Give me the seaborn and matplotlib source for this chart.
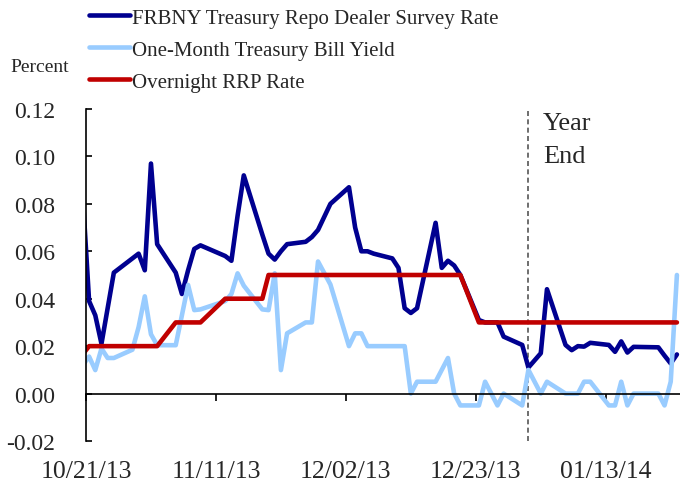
import matplotlib
matplotlib.use("Agg")
import matplotlib.pyplot as plt
import pandas as pd
import seaborn as sns

# ---------------- data ----------------
dates = [
    "2013-10-18",
    "2013-10-21", "2013-10-22", "2013-10-23", "2013-10-24", "2013-10-25",
    "2013-10-28", "2013-10-29", "2013-10-30", "2013-10-31", "2013-11-01",
    "2013-11-04", "2013-11-05", "2013-11-06", "2013-11-07", "2013-11-08",
    "2013-11-12", "2013-11-13", "2013-11-14", "2013-11-15",
    "2013-11-18", "2013-11-19", "2013-11-20", "2013-11-21", "2013-11-22",
    "2013-11-25", "2013-11-26", "2013-11-27", "2013-11-29",
    "2013-12-02", "2013-12-03", "2013-12-04", "2013-12-05", "2013-12-06",
    "2013-12-09", "2013-12-10", "2013-12-11", "2013-12-12", "2013-12-13",
    "2013-12-16", "2013-12-17", "2013-12-18", "2013-12-19", "2013-12-20",
    "2013-12-23", "2013-12-24", "2013-12-26", "2013-12-27",
    "2013-12-30", "2013-12-31",
    "2014-01-02", "2014-01-03",
    "2014-01-06", "2014-01-07", "2014-01-08", "2014-01-09", "2014-01-10",
    "2014-01-13", "2014-01-14", "2014-01-15", "2014-01-16", "2014-01-17",
    "2014-01-21", "2014-01-22", "2014-01-23", "2014-01-24",
]

repo_rate = [
    0.170,
    0.039, 0.033, 0.021, 0.036, 0.051,
    0.057, 0.059, 0.052, 0.097, 0.063,
    0.051, 0.042, 0.052, 0.061, 0.0625,
    0.058, 0.056, 0.075, 0.092,
    0.067, 0.059, 0.0565, 0.060, 0.063,
    0.064, 0.066, 0.069, 0.080,
    0.087, 0.070, 0.060, 0.060, 0.059,
    0.057, 0.053, 0.036, 0.034, 0.036,
    0.072, 0.053, 0.056, 0.054, 0.050,
    0.031, 0.030, 0.030, 0.024,
    0.0205, 0.011,
    0.017, 0.044,
    0.0205, 0.0183, 0.020, 0.0198, 0.0214,
    0.0205, 0.0176, 0.022, 0.0173, 0.0197,
    0.0195, 0.016, 0.0127, 0.0165,
]

tbill_yield = [
    0.005,
    0.0156, 0.0099, 0.019, 0.015, 0.015,
    0.0185, 0.028, 0.041, 0.025, 0.0204,
    0.0204, 0.033, 0.0458, 0.0352, 0.0355,
    0.039, 0.042, 0.0507, 0.0455,
    0.0355, 0.0352, 0.0507, 0.0099, 0.0254,
    0.030, 0.030, 0.0557, 0.046,
    0.020, 0.0254, 0.0254, 0.020, 0.020,
    0.020, 0.020, 0.020, 0.000, 0.005,
    0.005, 0.010, 0.015, 0.000, -0.005,
    -0.005, 0.005, -0.005, 0.000,
    -0.005, 0.010,
    0.000, 0.005,
    0.000, 0.000, 0.000, 0.005, 0.005,
    -0.005, -0.005, 0.005, -0.005, 0.000,
    0.000, -0.005, 0.005, 0.050,
]

rrp_rate = (
    [0.01]
    + [0.02] * 10
    + [0.03] * 5
    + [0.04] * 5
    + [0.05] * 23
    + [0.03] * 22
)

series_names = [
    "FRBNY Treasury Repo Dealer Survey Rate",
    "One-Month Treasury Bill Yield",
    "Overnight RRP Rate",
]
series_colors = ["#000090", "#99CCFF", "#C00000"]

x_tick_labels = ["10/21/13", "11/11/13", "12/02/13", "12/23/13", "01/13/14"]
y_ticks = [-0.02, 0.00, 0.02, 0.04, 0.06, 0.08, 0.10, 0.12]
year_end_date = "2013-12-31"

# ---------------- frame ----------------
dt = pd.to_datetime(dates) + pd.Timedelta(hours=12)  # points centred in their day
df = pd.concat([
    pd.DataFrame({"date": dt, "value": v, "series": n})
    for n, v in zip(series_names, [repo_rate, tbill_yield, rrp_rate])
], ignore_index=True)

sns.set_theme(style="white")
plt.rcParams["font.family"] = ["Liberation Serif", "DejaVu Serif"]
plt.rcParams["axes.unicode_minus"] = False

fig = plt.figure(figsize=(6.8, 4.89), dpi=100)
ax = fig.add_axes([86 / 680, 1 - 442 / 489, 594 / 680, 332 / 489])

sns.lineplot(data=df, x="date", y="value", hue="series",
             hue_order=series_names, palette=series_colors,
             linewidth=3.3, ax=ax, legend=True)

handles, labels = ax.get_legend_handles_labels()
ax.get_legend().remove()

ax.set_xlim(pd.Timestamp("2013-10-21"), pd.Timestamp("2014-01-25"))
ax.set_ylim(-0.02, 0.12)
ax.set_yticks(y_ticks)
ax.set_yticklabels([f"{t:.2f}" for t in y_ticks])
ax.set_xticks(pd.to_datetime(x_tick_labels, format="%m/%d/%y"))
ax.set_xticklabels(x_tick_labels)
ax.set_xlabel("")
ax.set_ylabel("")

for s in ["top", "right"]:
    ax.spines[s].set_visible(False)
ax.spines["bottom"].set_position(("data", 0))
for s in ["bottom", "left"]:
    ax.spines[s].set_color("black")
    ax.spines[s].set_linewidth(1.2)

ax.tick_params(axis="y", direction="in", length=4, width=1.2, color="black",
               labelsize=17, pad=22, left=True)
ax.tick_params(axis="x", direction="out", length=5, width=1.2, color="black",
               labelsize=18.5, pad=43, bottom=True)

ax.axvline(pd.Timestamp(year_end_date) + pd.Timedelta(hours=12),
           color="#555555", lw=1.2, ls=(0, (3, 2)), zorder=1)
ax.text(0.769, 0.99, "Year\nEnd", transform=ax.transAxes, fontsize=19,
        va="top", ha="left", linespacing=1.6)

fig.text(10 / 680, 1 - 68 / 489, "Percent", fontsize=14, va="center", ha="left")

fig.legend(handles, labels, loc="upper left",
           bbox_to_anchor=(89 / 680, 1 - 9 / 489), frameon=False,
           fontsize=15, handlelength=1.97, handletextpad=0.08,
           labelspacing=0.6, borderpad=0, borderaxespad=0)

fig.savefig("out.png", dpi=100)
